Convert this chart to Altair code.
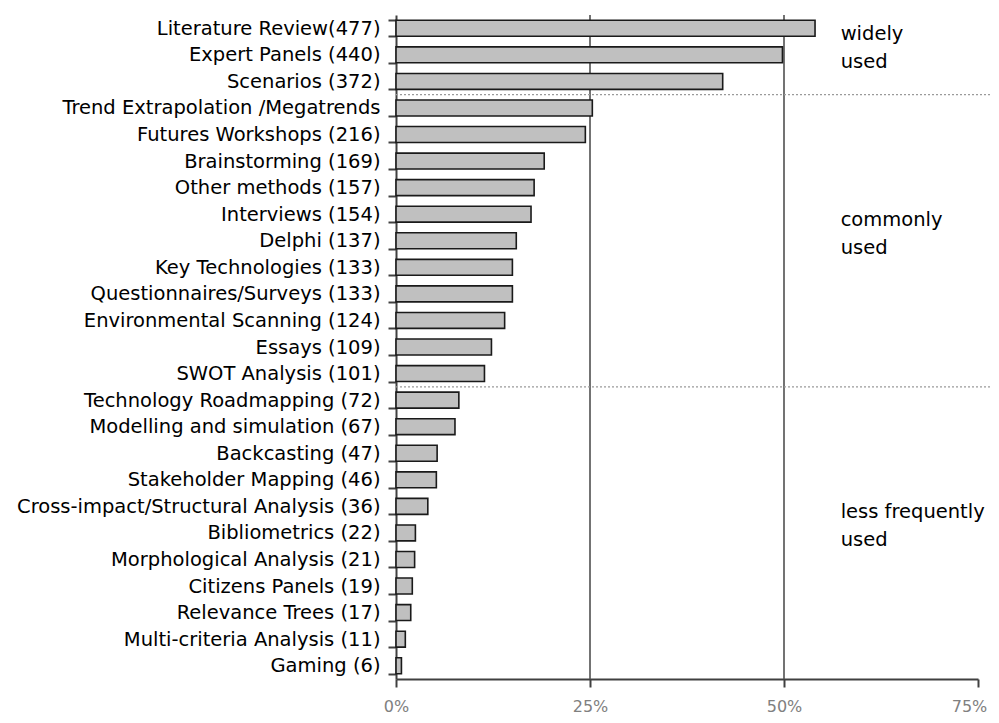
import altair as alt
import pandas as pd

methods = [
    "Literature Review(477)", "Expert Panels (440)", "Scenarios (372)",
    "Trend Extrapolation /Megatrends", "Futures Workshops (216)",
    "Brainstorming (169)", "Other methods (157)", "Interviews (154)",
    "Delphi (137)", "Key Technologies (133)", "Questionnaires/Surveys (133)",
    "Environmental Scanning (124)", "Essays (109)", "SWOT Analysis (101)",
    "Technology Roadmapping (72)", "Modelling and simulation (67)",
    "Backcasting (47)", "Stakeholder Mapping (46)",
    "Cross-impact/Structural Analysis (36)", "Bibliometrics (22)",
    "Morphological Analysis (21)", "Citizens Panels (19)",
    "Relevance Trees (17)", "Multi-criteria Analysis (11)", "Gaming (6)",
]
share = [54.0, 49.8, 42.1, 25.3, 24.4, 19.1, 17.8, 17.4, 15.5, 15.0, 15.0,
         14.0, 12.3, 11.4, 8.1, 7.6, 5.3, 5.2, 4.1, 2.5, 2.4, 2.1, 1.9, 1.2, 0.7]

grid_values = [25, 50]
tick_values = [0, 25, 50, 75]

group_labels = ["widely\nused", "commonly\nused", "less frequently\nused"]
group_anchor = ["Expert Panels (440)", "Delphi (137)", "Bibliometrics (22)"]
group_x = [57.3, 57.3, 57.3]

# boundaries (in row units from the top) separating the usage groups
sep_rows = [3, 14]
sep_x_end = [77.3, 77.3]

FONT = "DejaVu Sans"

bars_df = pd.DataFrame({"method": methods, "share": share})
grid_df = pd.DataFrame({"g": grid_values})
ann_df = pd.DataFrame({"label": group_labels, "method": group_anchor, "x": group_x})
sep_df = pd.DataFrame({"row": sep_rows, "x0": [0, 0], "x1": sep_x_end})

xscale = alt.Scale(domain=[0, 75], nice=False, zero=True)
yscale = alt.Scale(domain=methods, paddingInner=0.4, paddingOuter=0.2)

bars = alt.Chart(bars_df).mark_bar(
    fill="#c0c0c0", stroke="#1a1a1a", strokeWidth=1.6
).encode(
    x=alt.X("share:Q", scale=xscale, axis=alt.Axis(
        values=tick_values, labelExpr="datum.value + '%'", title=None,
        grid=False, labelColor="#808080", labelFont=FONT, labelFontSize=16,
        tickSize=8, tickColor="#404040", tickWidth=2, domainColor="#404040",
        domainWidth=2, labelPadding=11, labelFlush=False,
        labelOffset={"condition": {"test": "datum.value == 75", "value": -9}, "value": 0})),
    y=alt.Y("method:N", sort=methods, scale=yscale, axis=alt.Axis(
        title=None, grid=False, labelFont=FONT, labelFontSize=19.5,
        labelColor="#000000", labelLimit=420, tickBand="extent", tickSize=8,
        tickColor="#404040", tickWidth=2, domainColor="#404040",
        domainWidth=2, labelPadding=8)),
)

grid = alt.Chart(grid_df).mark_rule(color="#505050", strokeWidth=1.6).encode(
    x=alt.X("g:Q", scale=xscale)
)

ann = alt.Chart(ann_df).mark_text(
    align="left", baseline="middle", font=FONT, fontSize=19.5,
    color="#000000", lineBreak="\n", lineHeight=28, dy=-21
).encode(
    x=alt.X("x:Q", scale=xscale),
    y=alt.Y("method:N", sort=methods, scale=yscale),
    text="label:N",
)

seps = alt.Chart(sep_df).mark_rule(
    color="#9a9a9a", strokeWidth=1.2, strokeDash=[2, 2]
).encode(
    x=alt.X("x0:Q", scale=xscale),
    x2="x1:Q",
    y=alt.Y("row:Q", scale=alt.Scale(domain=[0, 25], reverse=True, nice=False), axis=None),
)

chart = alt.layer(grid, bars, ann).resolve_scale(y="shared")
chart = alt.layer(chart, seps).resolve_scale(y="independent").properties(
    width=582, height=664,
    autosize=alt.AutoSizeParams(type="none"),
    padding={"left": 388, "top": 7, "right": 13, "bottom": 40},
).configure_view(stroke=None)

chart.save("out.html", embed_options={"renderer": "svg", "actions": False})
